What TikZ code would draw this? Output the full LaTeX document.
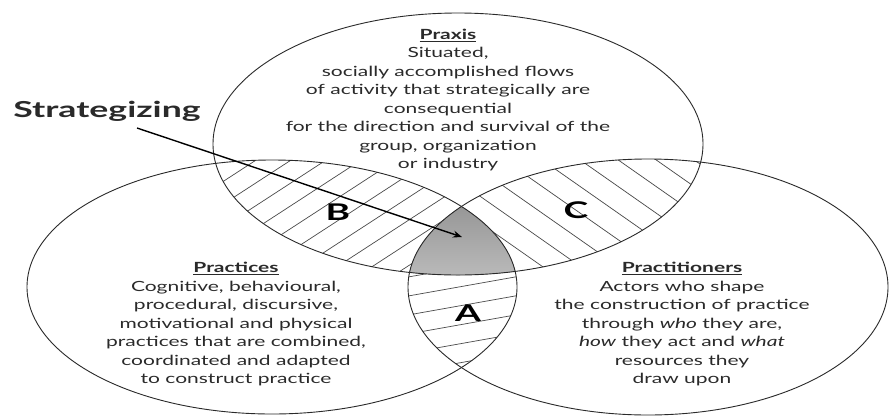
\documentclass[tikz,border=0pt]{standalone}
\usepackage{fontspec}
\setmainfont{Lato}[FakeStretch=1.5]
\newfontfamily\headfont{Lato}[FakeStretch=1.62]
\usetikzlibrary{arrows.meta}

\definecolor{ink}{HTML}{2A2A2A}
\definecolor{shade}{HTML}{BDBDBD}

\tikzset{
  outline/.style={draw=ink, line width=0.9pt},
  hatch/.style={draw=ink!85, line width=0.7pt},
  bodytext/.style={align=center, text=ink, inner sep=0pt,
    font=\fontsize{14}{18.5}\selectfont},
  letter/.style={text=black, inner sep=0pt,
    font=\headfont\fontsize{23}{23}\selectfont\bfseries},
  pointer/.style={draw=black, line width=1.4pt, -{Stealth[length=9pt,width=7pt]}}
}

\begin{document}
\begin{tikzpicture}[x=1pt,y=-1pt]
\useasboundingbox[fill=white] (0,0) rectangle (889,416);

% the three sets
\def\praxis{(458,144) ellipse [x radius=245, y radius=131]}
\def\practices{(272,287) ellipse [x radius=245, y radius=127]}
\def\practitioners{(648,287) ellipse [x radius=240, y radius=128]}

% B: praxis and practices
\begin{scope}
  \clip \praxis;
  \clip \practices;
  \foreach \x in {-200,-165,...,700}
    \draw[hatch] (\x,320) -- ++(320,-208);
\end{scope}

% C: praxis and practitioners
\begin{scope}
  \clip \praxis;
  \clip \practitioners;
  \foreach \x in {200,238,...,760}
    \draw[hatch] (\x,80) -- ++(320,224);
\end{scope}

% A: practices and practitioners
\begin{scope}
  \clip \practices;
  \clip \practitioners;
  \foreach \y in {263,282,...,420}
    \draw[hatch] (380,\y) -- ++(180,-32);
\end{scope}

% the core where all three meet
\begin{scope}
  \clip \praxis;
  \clip \practices;
  \fill[shade] \practitioners;
\end{scope}

\draw[outline] \praxis;
\draw[outline] \practices;
\draw[outline] \practitioners;

% region letters
\node[letter] (B) at (338,212) {B};
\node[letter] (C) at (576,210) {C};
\node[letter] (A) at (468,313) {A};

% texts
\node[bodytext] (praxistext) at (448,100) {%
  \textbf{\underline{Praxis}}\\
  Situated,\\
  socially accomplished flows\\
  of activity that strategically are\\
  consequential\\
  for the direction and survival of the\\
  group, organization\\
  or industry};

\node[bodytext] (practicestext) at (236,324) {%
  \textbf{\underline{Practices}}\\
  Cognitive, behavioural,\\
  procedural, discursive,\\
  motivational and physical\\
  practices that are combined,\\
  coordinated and adapted\\
  to construct practice};

\node[bodytext] (practitionerstext) at (682,324) {%
  \textbf{\underline{Practitioners}}\\
  Actors who shape\\
  the construction of practice\\
  through \textit{who} they are,\\
  \textit{how} they act and \textit{what}\\
  resources they\\
  draw upon};

% strategizing pointer
\node[text=ink, inner sep=0pt, font=\headfont\fontsize{22}{22}\selectfont\bfseries]
  (strat) at (107,111) {Strategizing};
\coordinate (pstart) at (137,128);
\coordinate (ptip) at (462,237);
\draw[pointer] (pstart) -- (ptip);
\end{tikzpicture}
\end{document}
